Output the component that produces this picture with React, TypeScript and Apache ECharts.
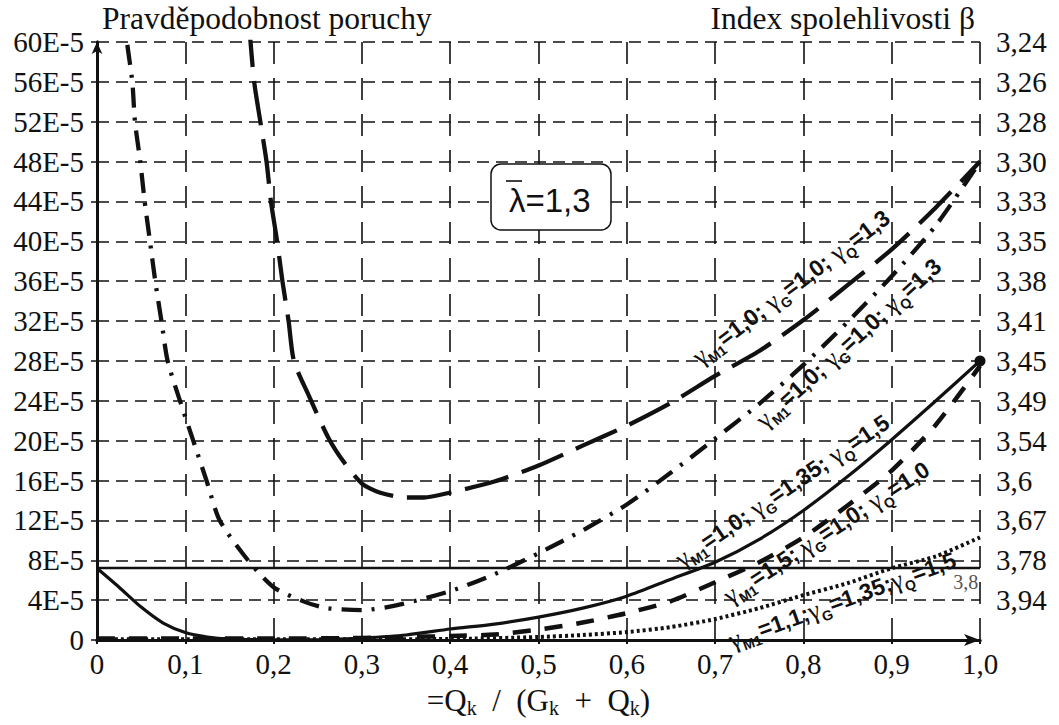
import React, { useEffect, useRef } from 'react';
import * as echarts from 'echarts';

// ---------- data (probability of failure in units of 1E-5) ----------
const xLabels = ['0', '0,1', '0,2', '0,3', '0,4', '0,5', '0,6', '0,7', '0,8', '0,9', '1,0'];
const pfLabels = ['0', '4E-5', '8E-5', '12E-5', '16E-5', '20E-5', '24E-5', '28E-5', '32E-5', '36E-5', '40E-5', '44E-5', '48E-5', '52E-5', '56E-5', '60E-5'];
const betaLabels = ['', '3,94', '3,78', '3,67', '3,6', '3,54', '3,49', '3,45', '3,41', '3,38', '3,35', '3,33', '3,30', '3,28', '3,26', '3,24'];
const leftTitle = 'Pravděpodobnost poruchy';
const rightTitle = 'Index spolehlivosti β';

// γM1=1,0; γG=1,0; γQ=1,3 (long dashes)
const curveA: [number, number][] = [
  [0.172, 62], [0.178, 56], [0.185, 52], [0.192, 48], [0.197, 44], [0.204, 40], [0.21, 36], [0.217, 32],
  [0.223, 28], [0.24, 24.5], [0.262, 20.3], [0.28, 17.8], [0.3, 15.7], [0.32, 14.8], [0.35, 14.3], [0.37, 14.3],
  [0.4, 14.8], [0.45, 15.9], [0.5, 17.5], [0.55, 19.5], [0.6, 21.5], [0.65, 23.8], [0.7, 26.5], [0.75, 29.0],
  [0.8, 32.1], [0.85, 35.6], [0.9, 39.2], [0.95, 43.4], [1.0, 48],
];
// γM1=1,0; γG=1,0; γQ=1,3 (dash-dot)
const curveB: [number, number][] = [
  [0.03, 64], [0.034, 60], [0.04, 56], [0.043, 52], [0.049, 48], [0.054, 44], [0.06, 40], [0.066, 36],
  [0.073, 32], [0.08, 28], [0.094, 24], [0.109, 20], [0.124, 16], [0.139, 12], [0.171, 8], [0.2, 5.3],
  [0.236, 3.8], [0.26, 3.2], [0.3, 3.0], [0.34, 3.5], [0.4, 4.9], [0.45, 6.6], [0.5, 8.7], [0.55, 11.0],
  [0.6, 13.6], [0.65, 16.8], [0.7, 20.2], [0.75, 23.7], [0.8, 27.6], [0.85, 31.9], [0.9, 36.5], [0.95, 41.6], [1.0, 48],
];
// γM1=1,0; γG=1,35; γQ=1,5 (solid)
const curveC: [number, number][] = [
  [0, 7.2], [0.025, 5.3], [0.05, 3.3], [0.075, 1.7], [0.1, 0.75], [0.125, 0.3], [0.15, 0.1], [0.2, 0.02],
  [0.25, 0.02], [0.3, 0.2], [0.35, 0.5], [0.4, 1.1], [0.45, 1.6], [0.5, 2.3], [0.55, 3.2], [0.6, 4.4],
  [0.65, 6.1], [0.7, 7.8], [0.75, 10.1], [0.8, 13.0], [0.85, 16.4], [0.9, 20.1], [0.95, 24.0], [1.0, 28],
];
// γM1=1,5; γG=1,0; γQ=1,0 (dashes)
const curveD: [number, number][] = [
  [0, 0.15], [0.1, 0.15], [0.2, 0.15], [0.3, 0.2], [0.35, 0.3], [0.4, 0.4], [0.45, 0.55], [0.5, 1.05],
  [0.55, 1.75], [0.6, 2.7], [0.65, 3.9], [0.7, 5.8], [0.75, 7.8], [0.8, 10.3], [0.85, 13.5], [0.9, 17.0],
  [0.95, 21.6], [1.0, 27.5],
];
// γM1=1,1; γG=1,35; γQ=1,5 (dotted)
const curveE: [number, number][] = [
  [0, 0.08], [0.1, 0.08], [0.2, 0.08], [0.3, 0.08], [0.4, 0.1], [0.5, 0.3], [0.55, 0.5], [0.6, 0.8],
  [0.65, 1.3], [0.7, 2.1], [0.75, 3.2], [0.8, 4.5], [0.85, 5.7], [0.9, 7.2], [0.95, 8.4], [1.0, 10.3],
];
// β = 3,8 limit
const limitLine: [number, number][] = [[0, 7.23], [1, 7.23]];
const limitText = '3,8';
const lambdaValue = '=1,3';

// ---------- annotations ----------
const curveLabels = [
  { parts: [['γ', 'M1', '=1,0; '], ['γ', 'G', '=1,0; '], ['γ', 'Q', '=1,3']], at: [0.786, 35.4], angle: 37 },
  { parts: [['γ', 'M1', '=1,0; '], ['γ', 'G', '=1,0; '], ['γ', 'Q', '=1,3']], at: [0.851, 29.8], angle: 42 },
  { parts: [['γ', 'M1', '=1,0; '], ['γ', 'G', '=1,35; '], ['γ', 'Q', '=1,5']], at: [0.776, 15.0], angle: 34 },
  { parts: [['γ', 'M1', '=1,5; '], ['γ', 'G', '=1,0; '], ['γ', 'Q', '=1,0']], at: [0.826, 10.8], angle: 33 },
  { parts: [['γ', 'M1', '=1,1;'], ['γ', 'G', '=1,35;'], ['γ', 'Q', '=1,5']], at: [0.844, 4.0], angle: 20 },
];

const SERIF = 'Liberation Serif';
const SANS = 'Liberation Sans';
const INK = '#111';

const labelRich = {
  g: { fontFamily: SERIF, fontSize: 26, lineHeight: 32, fill: INK, color: INK },
  s: { fontFamily: SANS, fontWeight: 'bold', fontSize: 14, lineHeight: 14, verticalAlign: 'bottom', fill: INK, color: INK },
  t: { fontFamily: SANS, fontWeight: 'bold', fontSize: 23, lineHeight: 32, fill: INK, color: INK },
};

const axisRich = { a: { fontFamily: SERIF, fontSize: 29, color: INK, lineHeight: 32 } };
const wrap = (s: string) => (s ? `{a|${s}}` : '');

function lineSeries(data: any[], width: number, type: any, z = 3) {
  return {
    type: 'line',
    data,
    symbol: 'none',
    showSymbol: false,
    smooth: 0.25,
    silent: true,
    z,
    lineStyle: { color: INK, width, type, cap: 'butt', join: 'round' },
  };
}

export default function App() {
  const ref = useRef<HTMLDivElement>(null);

  useEffect(() => {
    document.body.style.margin = '0';
    const chart = echarts.init(ref.current!, undefined, { renderer: 'svg' });

    const cData = curveC.map((p, i) =>
      i === curveC.length - 1
        ? { value: p, symbol: 'circle', symbolSize: 11, itemStyle: { color: INK } }
        : p
    );
    const seriesC: any = lineSeries(cData, 3.2, 'solid', 4);
    seriesC.showSymbol = true;
    seriesC.showAllSymbol = true;

    const titleStyle = { fontFamily: SERIF, fontSize: 31.5, fontWeight: 'normal', color: INK };

    const option: any = {
      animation: false,
      backgroundColor: '#fff',
      textStyle: { fontFamily: SERIF },
      title: [
        { text: leftTitle, left: 102, top: 2, padding: 0, textStyle: titleStyle },
        { text: rightTitle, right: 84, top: 2, padding: 0, textStyle: titleStyle },
      ],
      grid: { left: 97, right: 79, top: 42, bottom: 85, containLabel: false, outerBoundsMode: 'none' },
      xAxis: [
        {
          type: 'value', min: 0, max: 1, interval: 0.1, position: 'bottom',
          axisLine: { show: true, lineStyle: { color: INK, width: 3 }, symbol: ['none', 'arrow'], symbolSize: [9, 16] },
          axisTick: { show: true, length: 4, lineStyle: { color: INK, width: 2 } },
          axisLabel: { formatter: (v: number) => wrap(xLabels[Math.round(v * 10)]), rich: axisRich, margin: 8 },
          splitLine: { show: true, lineStyle: { type: [22, 14], color: INK, width: 1.6 } },
          name: '{a|=Q}{k|k}{a|  /  (G}{k|k}{a|  +  Q}{k|k}{a|)}',
          nameLocation: 'middle', nameGap: 42,
          nameTextStyle: {
            rich: {
              a: { fontFamily: SERIF, fontSize: 31, lineHeight: 36, color: INK },
              k: { fontFamily: SERIF, fontSize: 20, lineHeight: 20, verticalAlign: 'bottom', color: INK },
            },
          },
        },
        {
          type: 'value', min: 0, max: 1, interval: 0.1, position: 'top',
          axisLine: { show: true, lineStyle: { color: INK, width: 3 } },
          axisTick: { show: false }, axisLabel: { show: false }, splitLine: { show: false },
        },
      ],
      yAxis: [
        {
          type: 'value', min: 0, max: 60, interval: 4, position: 'left',
          axisLine: { show: true, lineStyle: { color: INK, width: 3 }, symbol: ['none', 'arrow'], symbolSize: [8, 12] },
          axisTick: { show: true, length: 6, lineStyle: { color: INK, width: 1.5 } },
          axisLabel: { formatter: (v: number) => wrap(pfLabels[Math.round(v / 4)]), rich: axisRich, margin: 13 },
          splitLine: { show: true, lineStyle: { type: [12, 7], color: INK, width: 1.6 } },
        },
        {
          type: 'value', min: 0, max: 60, interval: 4, position: 'right',
          axisLine: { show: true, lineStyle: { color: INK, width: 3 } },
          axisTick: { show: false },
          axisLabel: { formatter: (v: number) => wrap(betaLabels[Math.round(v / 4)]), rich: axisRich, margin: 16 },
          splitLine: { show: false },
        },
      ],
      series: [
        lineSeries(limitLine, 2.5, 'solid', 2),
        lineSeries(curveA, 4.3, [45, 14], 3),
        lineSeries(curveB, 4.3, [20, 10, 3, 10], 3),
        seriesC,
        lineSeries(curveD, 4.5, [18, 14], 3),
        lineSeries(curveE, 4, [3, 3], 3),
      ],
    };
    chart.setOption(option);

    const toPx = (p: number[]) => chart.convertToPixel({ gridIndex: 0 }, p) as number[];
    const graphics: any[] = curveLabels.map((l) => {
      const [px, py] = toPx(l.at);
      return {
        type: 'text', x: px, y: py, rotation: (l.angle * Math.PI) / 180, z: 20, silent: true,
        style: {
          text: l.parts.map(([g, s, t]) => `{g|${g}}{s|${s}}{t|${t}}`).join(''),
          rich: labelRich, align: 'center', verticalAlign: 'middle', fill: INK,
        },
      };
    });
    const [lx, ly] = toPx([0.984, 5.8]);
    graphics.push({
      type: 'text', x: lx, y: ly, z: 20, silent: true,
      style: { text: limitText, fontFamily: SERIF, fontSize: 20, fill: '#555', align: 'center', verticalAlign: 'middle' },
    });
    // lambda box
    graphics.push({
      type: 'group', z: 20, silent: true,
      children: [
        { type: 'rect', shape: { x: 491, y: 164, width: 120, height: 66, r: 10 }, style: { fill: '#fff', stroke: INK, lineWidth: 1.5 } },
        { type: 'text', x: 509, y: 200, style: { text: 'λ' + lambdaValue, fontFamily: SANS, fontSize: 33, fill: INK, align: 'left', verticalAlign: 'middle' } },
        { type: 'line', shape: { x1: 506, y1: 181, x2: 522, y2: 181 }, style: { stroke: INK, lineWidth: 1.6 } },
      ],
    });
    chart.setOption({ graphic: graphics });

    return () => chart.dispose();
  }, []);

  return <div ref={ref} style={{ width: 1059, height: 725 }} />;
}
